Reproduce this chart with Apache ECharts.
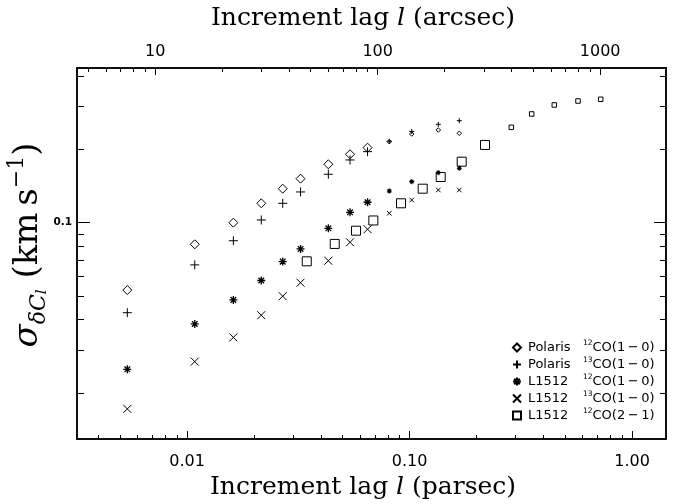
<!DOCTYPE html>
<html><head><meta charset="utf-8">
<script src="https://cdn.jsdelivr.net/npm/echarts@6/dist/echarts.min.js"></script>
<style>html,body{margin:0;padding:0;background:#fff}#c{width:673px;height:504px}</style>
</head><body><div id="c"></div>
<script>
// ---------------- data ----------------
// increment lags (parsec) shared by the four 1-0 data sets
const lagPc      = [0.00539, 0.01083, 0.01615, 0.02156, 0.02692, 0.03237, 0.04316, 0.05403, 0.06477];
const lagPcFine  = [0.0811, 0.1023, 0.1347, 0.1674];

const polaris12  = [0.0529, 0.0815, 0.1000, 0.1201, 0.1379, 0.1516, 0.1737, 0.1909, 0.2032];
const polaris12F = [0.2150, 0.2312, 0.2402, 0.2328];
const polaris13  = [0.0427, 0.0671, 0.0843, 0.1026, 0.1201, 0.1337, 0.1580, 0.1809, 0.1957];
const polaris13F = [0.2160, 0.2368, 0.2534, 0.2622];
const l1512c12   = [0.0250, 0.0384, 0.0482, 0.0579, 0.0692, 0.0780, 0.0948, 0.1103, 0.1213];
const l1512c12F  = [0.1349, 0.1474, 0.1604, 0.1673];
const l1512c13   = [0.0172, 0.0269, 0.0338, 0.0417, 0.0499, 0.0567, 0.0698, 0.0831, 0.0940];
const l1512c13F  = [0.1093, 0.1239, 0.1362, 0.1362];

const lag21Pc    = [0.03452, 0.04611, 0.05748, 0.06877, 0.09158, 0.1146, 0.1381, 0.1716, 0.2184];
const l1512c21   = [0.0694, 0.0818, 0.0927, 0.1021, 0.1201, 0.1379, 0.1540, 0.1780, 0.2085];
const lag21PcF   = [0.2868, 0.3541, 0.4474, 0.5719, 0.7233];
const l1512c21F  = [0.2463, 0.2794, 0.3042, 0.3159, 0.3210];

// legend texts
const legSource = ['Polaris', 'Polaris', 'L1512', 'L1512', 'L1512'];
const legIso    = ['12', '13', '12', '13', '12'];
const legLine   = ['CO(1\u2009\u2212\u20090)', 'CO(1\u2009\u2212\u20090)', 'CO(1\u2009\u2212\u20090)', 'CO(1\u2009\u2212\u20090)', 'CO(2\u2009\u2212\u20091)'];

// axes
const xMinPc = 0.003202, xMaxPc = 1.4216;
const pcPerArcsec = 7.19e-4;
const yMin = 0.01294, yMax = 0.4315;
const bottomTicks = [0.01, 0.1, 1];      const bottomTickLabels = ['0.01', '0.10', '1.00'];
const topTicks    = [10, 100, 1000];     const topTickLabels    = ['10', '100', '1000'];
const leftTicks   = [0.1];               const leftTickLabels   = ['0.1'];

// ---------------- helpers ----------------
const L = Math.log10;
function minorTicks(lo, hi) {
  const out = [];
  for (let d = Math.floor(L(lo)); d <= Math.ceil(L(hi)); d++) {
    for (let m = 2; m <= 9; m++) { const v = m * Math.pow(10, d); if (v > lo && v < hi) out.push(L(v)); }
  }
  return out;
}
function fmt(ticks, labels) {
  return v => { const i = ticks.findIndex(t => Math.abs(L(t) - v) < 1e-6); return i >= 0 ? labels[i] : ''; };
}
const lineStyle = { color: '#000', width: 1.5 };
function axis(pos, lo, hi, ticks, labels, len, minor, labelOpt) {
  const a = {
    type: 'value', position: pos, min: L(lo), max: L(hi),
    axisLine: { show: true, onZero: false, lineStyle },
    splitLine: { show: false },
    axisTick: { show: true, inside: true, length: len, customValues: minor ? minorTicks(lo, hi) : ticks.map(L),
                lineStyle: { color: '#000', width: 1 } },
    axisLabel: { show: false }
  };
  if (labelOpt) {
    a.axisLabel = Object.assign({ show: true, customValues: ticks.map(L), formatter: fmt(ticks, labels), color: '#000' }, labelOpt);
  }
  return a;
}
const tickFont = { fontFamily: 'DejaVu Sans', fontSize: 16 };
const xAxes = [
  axis('bottom', xMinPc, xMaxPc, bottomTicks, bottomTickLabels, 8, false, Object.assign({ margin: 15 }, tickFont)),
  axis('bottom', xMinPc, xMaxPc, bottomTicks, bottomTickLabels, 4, true),
  axis('top', xMinPc / pcPerArcsec, xMaxPc / pcPerArcsec, topTicks, topTickLabels, 7, false, Object.assign({ margin: 8 }, tickFont)),
  axis('top', xMinPc / pcPerArcsec, xMaxPc / pcPerArcsec, topTicks, topTickLabels, 4, true)
];
const yAxes = [
  axis('left', yMin, yMax, leftTicks, leftTickLabels, 13, false, { margin: 5, fontFamily: 'DejaVu Sans', fontSize: 10.5, fontWeight: 'bold' }),
  axis('left', yMin, yMax, leftTicks, leftTickLabels, 7, true),
  axis('right', yMin, yMax, leftTicks, leftTickLabels, 12, false),
  axis('right', yMin, yMax, leftTicks, leftTickLabels, 6, true)
];

const SYM = {
  diamond: 'diamond',
  plus: 'path://M0,5H10M5,0V10',
  star: 'path://M5,0V10M0,5H10M1.5,1.5L8.5,8.5M8.5,1.5L1.5,8.5',
  cross: 'path://M0,0L10,10M10,0L0,10',
  square: 'rect'
};
const names = legSource.map((s, i) => s + ' ' + legIso[i] + legLine[i]);
function sc(name, sym, size, xs, ys, bw) {
  return {
    type: 'scatter', name, symbol: SYM[sym], symbolSize: size, xAxisIndex: 0, yAxisIndex: 0,
    data: xs.map((x, i) => [L(x), L(ys[i])]), silent: true,
    itemStyle: { color: 'rgba(0,0,0,0)', borderColor: '#000', borderWidth: bw || 1, opacity: 1 }
  };
}
const series = [
  sc(names[0], 'diamond', [9, 9], lagPc, polaris12),
  sc(names[1], 'plus', [9, 9], lagPc, polaris13),
  sc(names[2], 'star', [8, 8], lagPc, l1512c12, 1.3),
  sc(names[3], 'cross', [8, 8], lagPc, l1512c13),
  sc(names[4], 'square', [9, 9], lag21Pc, l1512c21),
  sc(names[0], 'diamond', [4.5, 4.5], lagPcFine, polaris12F),
  sc(names[1], 'plus', [5, 5], lagPcFine, polaris13F),
  sc(names[2], 'star', [5, 5], lagPcFine, l1512c12F, 1.1),
  sc(names[3], 'cross', [4.5, 4.5], lagPcFine, l1512c13F),
  sc(names[4], 'square', [4.5, 4.5], lag21PcF, l1512c21F)
];

const serif = 'DejaVu Serif';
const chart = echarts.init(document.getElementById('c'), null, { renderer: 'canvas' });
chart.setOption({
  animation: false,
  backgroundColor: '#fff',
  grid: { left: 77, right: 7, top: 68, bottom: 65, containLabel: false },
  xAxis: xAxes,
  yAxis: yAxes,
  legend: {
    data: names, orient: 'vertical', left: 507, top: 334, itemWidth: 8, itemHeight: 8, itemGap: 0,
    selectedMode: false,
    formatter: n => { const i = names.indexOf(n); return '{n|' + legSource[i] + '}{s|' + legIso[i] + '}{c|' + legLine[i] + '}'; },
    textStyle: {
      color: '#000', fontFamily: 'DejaVu Sans', fontSize: 13, lineHeight: 17,
      rich: {
        n: { fontFamily: 'DejaVu Sans', fontSize: 13, lineHeight: 17, width: 55, padding: [0, 0, 0, 2], color: '#000' },
        s: { fontFamily: 'DejaVu Sans', fontSize: 7.5, lineHeight: 11, verticalAlign: 'top', color: '#000' },
        c: { fontFamily: 'DejaVu Sans', fontSize: 13, lineHeight: 17, color: '#000' }
      }
    }
  },
  graphic: [
    { type: 'text', x: 363, y: 18, silent: true,
      style: { text: '{a|Increment lag }{i|l}{a| (arcsec)}', align: 'center', verticalAlign: 'middle',
        rich: { a: { fontFamily: serif, fontSize: 25, fill: '#000' }, i: { fontFamily: serif, fontStyle: 'italic', fontSize: 25, fill: '#000' } } } },
    { type: 'text', x: 363, y: 487, silent: true,
      style: { text: '{a|Increment lag }{i|l}{a| (parsec)}', align: 'center', verticalAlign: 'middle',
        rich: { a: { fontFamily: serif, fontSize: 25, fill: '#000' }, i: { fontFamily: serif, fontStyle: 'italic', fontSize: 25, fill: '#000' } } } },
    { type: 'text', x: 28, y: 245, rotation: Math.PI / 2, silent: true,
      style: { text: '{s|\u03c3}{sb|\u03b4C}{ss|l}{n| (km\u2009s}{sp|\u22121}{n|)}', align: 'center', verticalAlign: 'middle',
        rich: {
          s: { fontFamily: serif, fontStyle: 'italic', fontSize: 34, lineHeight: 44, fill: '#000' },
          sb: { fontFamily: serif, fontStyle: 'italic', fontSize: 22, lineHeight: 28, verticalAlign: 'bottom', fill: '#000' },
          ss: { fontFamily: serif, fontStyle: 'italic', fontSize: 15, lineHeight: 16, verticalAlign: 'bottom', fill: '#000' },
          n: { fontFamily: serif, fontSize: 34, lineHeight: 44, fill: '#000' },
          sp: { fontFamily: serif, fontSize: 22, lineHeight: 26, verticalAlign: 'top', fill: '#000' }
        } } }
  ],
  series
});
</script></body></html>
